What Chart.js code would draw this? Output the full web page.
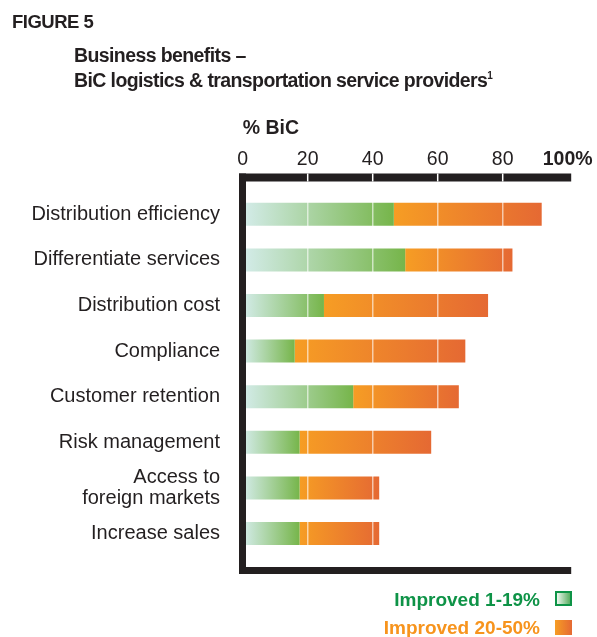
<!DOCTYPE html>
<html>
<head>
<meta charset="utf-8">
<script src="https://cdn.jsdelivr.net/npm/chart.js@4.4.1/dist/chart.umd.min.js"></script>
<style>
  html, body { margin: 0; padding: 0; background: #fff; }
  #wrap { position: relative; width: 597px; height: 637px; overflow: hidden;
          font-family: 'Liberation Sans', Arial, sans-serif; color: #231f20; line-height: 1; }
  #wrap canvas { position: absolute; left: 0; top: 0; }
  .txt { position: absolute; white-space: nowrap; font-weight: bold; }
  .fig { left: 12px; top: 13px; font-size: 18.5px; letter-spacing: -0.5px; }
  .ttl { left: 74px; font-size: 19.5px; letter-spacing: -0.6px; }
  .ttl sup { font-size: 10px; vertical-align: 8px; }
  .leg { right: 57px; font-size: 19px; text-align: right; }
  .box { position: absolute; left: 555px; width: 17px; height: 15px; box-sizing: border-box; }
</style>
</head>
<body>
<div id="wrap">
  <canvas id="chart" width="597" height="637"></canvas>
  <div class="txt fig">FIGURE 5</div>
  <div class="txt ttl" style="top:45.5px">Business benefits –</div>
  <div class="txt ttl" style="top:70.5px">BiC logistics &amp; transportation service providers<sup>1</sup></div>
  <div class="txt leg" style="top:590px; color:#0e9347">Improved 1-19%</div>
  <div class="box" style="top:591px; border:2px solid #0e9347; background:linear-gradient(to right,#eef6ee,#5aae62)"></div>
  <div class="txt leg" style="top:618px; color:#f7941d">Improved 20-50%</div>
  <div class="box" style="top:620px; background:linear-gradient(to right,#f69d24,#e56933)"></div>
</div>
<script>
const categories = ['Distribution efficiency', 'Differentiate services', 'Distribution cost', 'Compliance',
  'Customer retention', 'Risk management', ['Access to', 'foreign markets'], 'Increase sales'];
const improved1to19 = [46.5, 50, 25, 16, 34, 17.5, 17.5, 17.5];
const improved20to50 = [45.5, 33, 50.5, 52.5, 32.5, 40.5, 24.5, 24.5];
const xTicks = [0, 20, 40, 60, 80, 100];

// gradient across each bar's own segment, like the original artwork
function segGradient(from, to, c0, c1) {
  return (ctx) => {
    const chart = ctx.chart;
    if (!chart.chartArea) return c1;
    const x = chart.scales.x;
    const i = ctx.dataIndex;
    const a = x.getPixelForValue(from(i)), b = x.getPixelForValue(to(i));
    const g = chart.ctx.createLinearGradient(a, 0, b, 0);
    g.addColorStop(0, c0);
    g.addColorStop(1, c1);
    return g;
  };
}

// black frame: top, left and bottom rules with white notches at the ticks
const frame = {
  id: 'frame',
  afterDraw(chart) {
    const { ctx, chartArea: a, scales: { x } } = chart;
    const x0 = x.getPixelForValue(xTicks[0]) - 3.7;
    const x1 = x.getPixelForValue(xTicks[xTicks.length - 1]) + 3.5;
    ctx.save();
    ctx.fillStyle = '#231f20';
    ctx.fillRect(x0, a.top - 18, x1 - x0, 8);
    ctx.fillRect(x0, a.top - 18, 7, a.bottom + 17.7 - (a.top - 18));
    ctx.fillRect(x0, a.bottom + 10.7, x1 - x0, 7);
    ctx.fillStyle = '#fff';
    xTicks.slice(1, -1).forEach(v => ctx.fillRect(x.getPixelForValue(v) - 0.75, a.top - 18, 1.5, 8));
    ctx.restore();
  }
};

new Chart(document.getElementById('chart'), {
  type: 'bar',
  data: {
    labels: categories,
    datasets: [
      { label: 'Improved 1-19%', data: improved1to19,
        backgroundColor: segGradient(() => 0, i => improved1to19[i], '#d4ecea', '#76b54a') },
      { label: 'Improved 20-50%', data: improved20to50,
        backgroundColor: segGradient(i => improved1to19[i], i => improved1to19[i] + improved20to50[i], '#f69d24', '#e56933') }
    ]
  },
  options: {
    indexAxis: 'y',
    responsive: false,
    animation: false,
    layout: { padding: { left: 0, right: 29.3, top: 117.3, bottom: 80.7 } },
    datasets: { bar: { categoryPercentage: 1, barPercentage: 0.505, borderWidth: 0 } },
    plugins: { legend: { display: false }, tooltip: { enabled: false } },
    scales: {
      x: {
        position: 'top', stacked: true, min: 0, max: 100,
        afterBuildTicks: s => { s.ticks = xTicks.map(v => ({ value: v })); },
        afterFit: s => { s.height = 74.2; s.paddingLeft = 0; s.paddingRight = 0; },
        grid: { color: 'rgba(255,255,255,0.6)', lineWidth: 1.5, drawTicks: false, z: 1 },
        border: { display: false },
        ticks: {
          padding: 19.8, color: '#231f20',
          font: ctx => ({ family: "'Liberation Sans', Arial, sans-serif", size: 19.5,
            weight: ctx.tick && ctx.tick.value === 100 ? 'bold' : 'normal' }),
          callback: v => v === 100 ? '100%' : v
        },
        title: { display: true, text: '% BiC', align: 'start', color: '#231f20', padding: 0,
          font: { family: "'Liberation Sans', Arial, sans-serif", size: 19.5, weight: 'bold' } }
      },
      y: {
        stacked: true,
        afterFit: s => { s.width = 242.7; s.paddingTop = 0; s.paddingBottom = 0; },
        grid: { display: false, drawTicks: false },
        border: { display: false },
        ticks: { padding: 22.7, color: '#231f20',
          font: { family: "'Liberation Sans', Arial, sans-serif", size: 20, lineHeight: 1.05 } }
      }
    }
  },
  plugins: [frame]
});
</script>
</body>
</html>
